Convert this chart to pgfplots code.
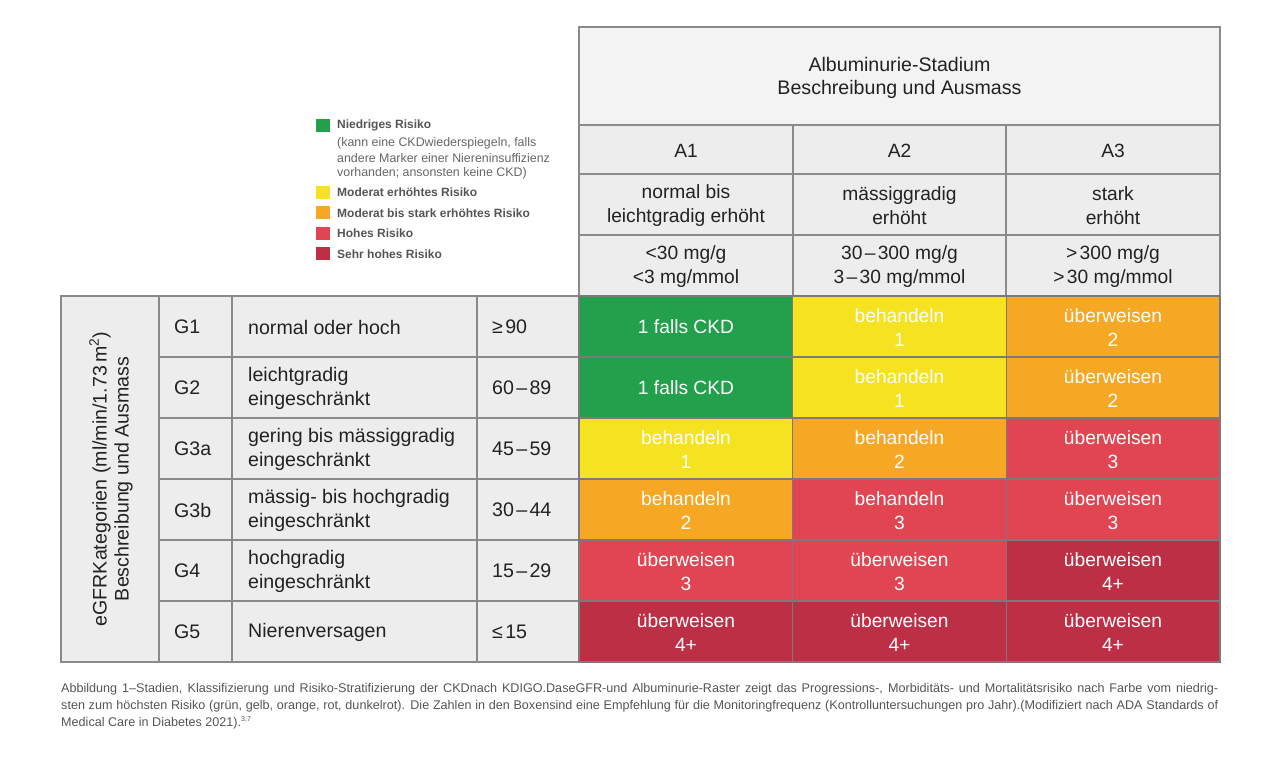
\documentclass[border=0pt]{standalone}
\usepackage{pgfplots}
\pgfplotsset{compat=1.18}
\usepackage{fontspec}
\setmainfont{Liberation Sans}
\definecolor{cellgray}{HTML}{EDEDED}
\definecolor{topgray}{HTML}{F3F3F3}
\definecolor{bordergray}{HTML}{8A8A8A}
\definecolor{heatline}{HTML}{7A7A7A}
\definecolor{txt}{HTML}{222222}
\definecolor{legtxt}{HTML}{555555}
\definecolor{rgreen}{RGB}{34,160,75}
\definecolor{ryellow}{RGB}{245,226,33}
\definecolor{rorange}{RGB}{246,167,36}
\definecolor{rred}{RGB}{225,69,81}
\definecolor{rdark}{RGB}{188,47,69}
\newcommand{\tf}{\fontsize{19.2}{24}\selectfont}
\newcommand{\ltf}{\fontsize{19.6}{24}\selectfont}
\newcommand{\lbf}{\fontsize{12}{15}\selectfont\bfseries}
\newcommand{\lf}{\fontsize{12.4}{15}\selectfont}
\newcommand{\cf}{\fontsize{12.6}{15}\selectfont}
\newcommand{\cell}[5]{\addplot[fill=#5,draw=bordergray,line width=1.3pt] coordinates {(#1,#2) (#3,#2) (#3,#4) (#1,#4)} --cycle;}
\newcommand{\lsq}[3]{\addplot[fill=#3,draw=none] coordinates {(316,#1) (330,#1) (330,#2) (316,#2)} --cycle;}
\newcommand{\heattxt}[4]{\node[white,font=\tf,align=center] at (axis cs:#1,#2) {#3\\#4};}
\newcommand{\lt}[3]{\node[txt,font=\ltf,anchor=west,inner sep=0,align=left] at (axis cs:#1,#2) {#3};}
\pgfplotstableread{
x y r
686 326.5 0
899.5 326.5 1
1113 326.5 2
686 387.5 0
899.5 387.5 1
1113 387.5 2
686 448.5 1
899.5 448.5 2
1113 448.5 3
686 509.5 2
899.5 509.5 3
1113 509.5 3
686 570.5 3
899.5 570.5 3
1113 570.5 4
686 631.5 4
899.5 631.5 4
1113 631.5 4
}\risktable
\begin{document}
\begin{tikzpicture}
\begin{axis}[width=1280pt,height=764pt,scale only axis,
  xmin=0,xmax=1280,ymin=0,ymax=764,y dir=reverse,hide axis,clip=false,
  colormap={risk}{rgb255=(34,160,75) rgb255=(245,226,33) rgb255=(246,167,36) rgb255=(225,69,81) rgb255=(188,47,69)},
  colormap access=direct]
\fill[white] (axis cs:0,0) rectangle (axis cs:1280,764);
% header
\cell{579}{27}{1220}{125}{topgray}
\cell{579}{125}{793}{174}{cellgray}
\cell{793}{125}{1006}{174}{cellgray}
\cell{1006}{125}{1220}{174}{cellgray}
\cell{579}{174}{793}{235}{cellgray}
\cell{793}{174}{1006}{235}{cellgray}
\cell{1006}{174}{1220}{235}{cellgray}
\cell{579}{235}{793}{296}{cellgray}
\cell{793}{235}{1006}{296}{cellgray}
\cell{1006}{235}{1220}{296}{cellgray}
% left table
\cell{61}{296}{159}{662}{cellgray}
\cell{159}{296}{232}{357}{cellgray}
\cell{232}{296}{477}{357}{cellgray}
\cell{477}{296}{579}{357}{cellgray}
\cell{159}{357}{232}{418}{cellgray}
\cell{232}{357}{477}{418}{cellgray}
\cell{477}{357}{579}{418}{cellgray}
\cell{159}{418}{232}{479}{cellgray}
\cell{232}{418}{477}{479}{cellgray}
\cell{477}{418}{579}{479}{cellgray}
\cell{159}{479}{232}{540}{cellgray}
\cell{232}{479}{477}{540}{cellgray}
\cell{477}{479}{579}{540}{cellgray}
\cell{159}{540}{232}{601}{cellgray}
\cell{232}{540}{477}{601}{cellgray}
\cell{477}{540}{579}{601}{cellgray}
\cell{159}{601}{232}{662}{cellgray}
\cell{232}{601}{477}{662}{cellgray}
\cell{477}{601}{579}{662}{cellgray}
% heat map
\addplot[matrix plot*, mesh/cols=3, point meta=explicit] table[meta=r] {\risktable};
\addplot[draw=heatline,line width=1.3pt] coordinates {
(579,296) (1220,296)

(579,357) (1220,357)

(579,418) (1220,418)

(579,479) (1220,479)

(579,540) (1220,540)

(579,601) (1220,601)

(579,662) (1220,662)

(579,296) (579,662)

(792.75,296) (792.75,662)

(1006.25,296) (1006.25,662)

(1220,296) (1220,662)
};
% legend squares
\lsq{119}{132}{rgreen}
\lsq{186}{199}{ryellow}
\lsq{206}{219}{rorange}
\lsq{227}{240}{rred}
\lsq{247}{260}{rdark}
\end{axis}
\begin{axis}[width=1280pt,height=764pt,scale only axis,
  xmin=0,xmax=1280,ymin=0,ymax=764,y dir=reverse,hide axis,clip=false]
% header texts
\node[txt,align=center,font=\fontsize{19.6}{23}\selectfont] at (axis cs:899.5,77.5) {Albuminurie-Stadium\\Beschreibung und Ausmass};
\node[txt,font=\tf] at (axis cs:686,150.5) {A1};
\node[txt,font=\tf] at (axis cs:899.5,150.5) {A2};
\node[txt,font=\tf] at (axis cs:1113,150.5) {A3};
\node[txt,font=\tf,align=center] at (axis cs:686,205.5) {normal bis\\leichtgradig erhöht};
\node[txt,font=\tf,align=center] at (axis cs:899.5,205.5) {mässiggradig\\erhöht};
\node[txt,font=\tf,align=center] at (axis cs:1113,205.5) {stark\\erhöht};
\node[txt,font=\tf,align=center] at (axis cs:686,266.5) {<30 mg/g\\<3 mg/mmol};
\node[txt,font=\tf,align=center] at (axis cs:899.5,266.5) {30\kern0.12em–\kern0.12em300 mg/g\\3\kern0.12em–\kern0.12em30 mg/mmol};
\node[txt,font=\tf,align=center] at (axis cs:1113,266.5) {>\kern0.12em300 mg/g\\>\kern0.12em30 mg/mmol};
% left texts
\node[txt,font=\fontsize{19.6}{22}\selectfont,align=center,rotate=90] at (axis cs:111,479) {eGFRKategorien (ml/min/1.73\,m\textsuperscript{2})\\Beschreibung und Ausmass};
\lt{174}{327}{G1}
\lt{174}{388}{G2}
\lt{174}{449}{G3a}
\lt{174}{510}{G3b}
\lt{174}{571}{G4}
\lt{174}{632}{G5}
\lt{248}{327}{normal oder hoch}
\lt{248}{388}{leichtgradig\\eingeschränkt}
\lt{248}{449}{gering bis mässiggradig\\eingeschränkt}
\lt{248}{510}{mässig- bis hochgradig\\eingeschränkt}
\lt{248}{571}{hochgradig\\eingeschränkt}
\lt{248}{632}{Nierenversagen}
\lt{492}{327}{≥\kern0.12em90}
\lt{492}{388}{60\kern0.12em–\kern0.12em89}
\lt{492}{449}{45\kern0.12em–\kern0.12em59}
\lt{492}{510}{30\kern0.12em–\kern0.12em44}
\lt{492}{571}{15\kern0.12em–\kern0.12em29}
\lt{492}{632}{≤\kern0.12em15}
% heat texts
\node[white,font=\tf] at (axis cs:686,327) {1 falls CKD};
\node[white,font=\tf] at (axis cs:686,388) {1 falls CKD};
\heattxt{899.5}{327.5}{behandeln}{1}
\heattxt{1113}{327.5}{überweisen}{2}
\heattxt{899.5}{388.5}{behandeln}{1}
\heattxt{1113}{388.5}{überweisen}{2}
\heattxt{686}{449.5}{behandeln}{1}
\heattxt{899.5}{449.5}{behandeln}{2}
\heattxt{1113}{449.5}{überweisen}{3}
\heattxt{686}{510.5}{behandeln}{2}
\heattxt{899.5}{510.5}{behandeln}{3}
\heattxt{1113}{510.5}{überweisen}{3}
\heattxt{686}{571.5}{überweisen}{3}
\heattxt{899.5}{571.5}{überweisen}{3}
\heattxt{1113}{571.5}{überweisen}{4+}
\heattxt{686}{632.5}{überweisen}{4+}
\heattxt{899.5}{632.5}{überweisen}{4+}
\heattxt{1113}{632.5}{überweisen}{4+}
% legend texts
\node[legtxt,font=\lbf,anchor=west,inner sep=0] at (axis cs:337,125.5) {Niedriges Risiko};
\node[legtxt!90,font=\lf,anchor=west,inner sep=0] at (axis cs:337,143.5) {(kann eine CKDwiederspiegeln, falls};
\node[legtxt!90,font=\lf,anchor=west,inner sep=0] at (axis cs:337,158.5) {andere Marker einer Niereninsuffizienz};
\node[legtxt!90,font=\lf,anchor=west,inner sep=0] at (axis cs:337,173) {vorhanden; ansonsten keine CKD)};
\node[legtxt,font=\lbf,anchor=west,inner sep=0] at (axis cs:337,192.5) {Moderat erhöhtes Risiko};
\node[legtxt,font=\lbf,anchor=west,inner sep=0] at (axis cs:337,213) {Moderat bis stark erhöhtes Risiko};
\node[legtxt,font=\lbf,anchor=west,inner sep=0] at (axis cs:337,233.5) {Hohes Risiko};
\node[legtxt,font=\lbf,anchor=west,inner sep=0] at (axis cs:337,254) {Sehr hohes Risiko};
% caption
\node[legtxt,font=\cf,anchor=west,inner sep=0] at (axis cs:61,689) {\makebox[1157pt][s]{Abbildung 1–Stadien, Klassifizierung und Risiko-Stratifizierung der CKDnach KDIGO.DaseGFR-und Albuminurie-Raster zeigt das Progressions-, Morbiditäts- und Mortalitätsrisiko nach Farbe vom niedrig-}};
\node[legtxt,font=\cf,anchor=west,inner sep=0] at (axis cs:61,706) {\makebox[1157pt][s]{sten zum höchsten Risiko (grün, gelb, orange, rot, dunkelrot). Die Zahlen in den Boxensind eine Empfehlung für die Monitoringfrequenz (Kontrolluntersuchungen pro Jahr).(Modifiziert nach ADA Standards of}};
\node[legtxt,font=\cf,anchor=west,inner sep=0] at (axis cs:61,723) {Medical Care in Diabetes 2021).\textsuperscript{\fontsize{7}{7}\selectfont 3,7}};
\end{axis}
\end{tikzpicture}
\end{document}
